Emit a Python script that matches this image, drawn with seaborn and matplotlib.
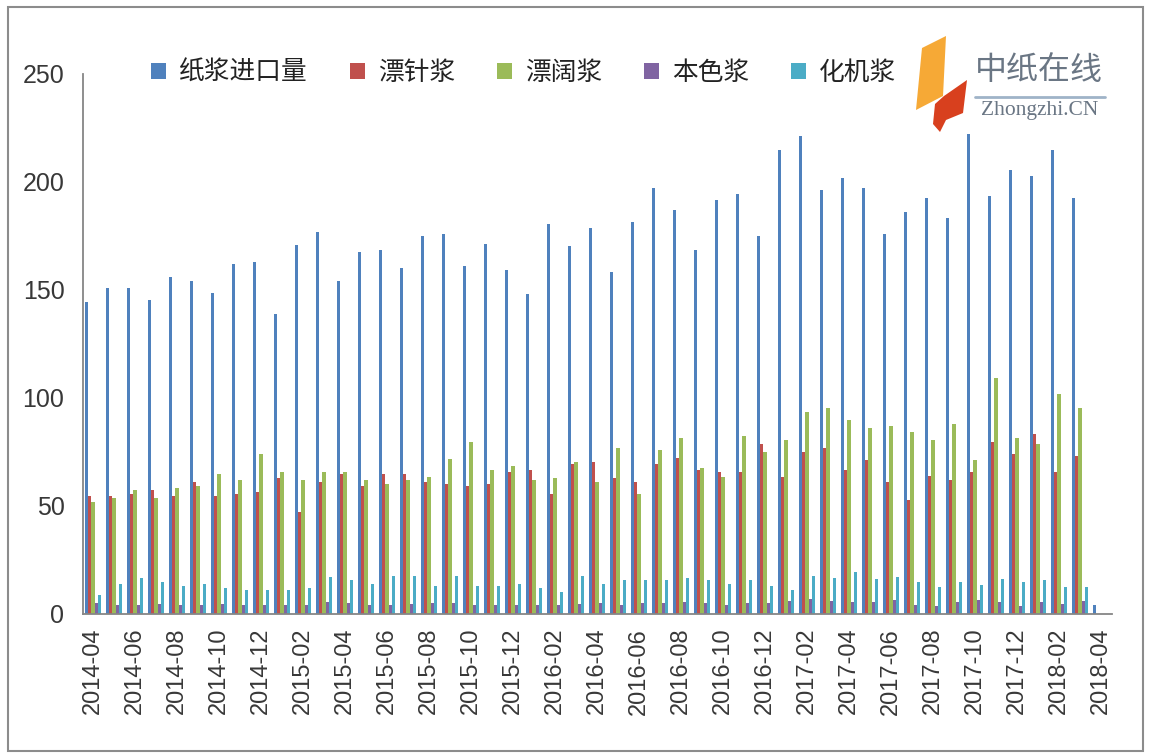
import numpy as np
import pandas as pd
import matplotlib
matplotlib.use("Agg")
import matplotlib.pyplot as plt
from matplotlib.patches import Rectangle, Polygon
from matplotlib.lines import Line2D
import seaborn as sns

# ---------------- data ----------------
months = ["2014-04", "2014-05", "2014-06", "2014-07", "2014-08", "2014-09", "2014-10", "2014-11", "2014-12",
          "2015-01", "2015-02", "2015-03", "2015-04", "2015-05", "2015-06", "2015-07", "2015-08", "2015-09",
          "2015-10", "2015-11", "2015-12", "2016-01", "2016-02", "2016-03", "2016-04", "2016-05", "2016-06",
          "2016-07", "2016-08", "2016-09", "2016-10", "2016-11", "2016-12", "2017-01", "2017-02", "2017-03",
          "2017-04", "2017-05", "2017-06", "2017-07", "2017-08", "2017-09", "2017-10", "2017-11", "2017-12",
          "2018-01", "2018-02", "2018-03", "2018-04"]

series_names = ["纸浆进口量", "漂针浆", "漂阔浆", "本色浆", "化机浆"]

pulp_import = [144.5, 151, 151, 145.5, 156, 154, 148.5, 162, 163, 139, 170.7, 177, 154, 167.7, 168.7, 160.3,
               175, 176, 161, 171.4, 159.4, 148.3, 180.7, 170.5, 178.9, 158.5, 181.6, 197.4, 187.2, 168.7,
               191.8, 194.6, 175, 215, 221.4, 196.4, 202, 197.4, 176, 186.3, 192.7, 183.5, 222.4, 193.6,
               205.7, 202.9, 215, 192.7, 4]
bleached_softwood = [54.5, 54.5, 55.4, 57.4, 54.5, 61, 54.5, 55.4, 56.3, 62.8, 47, 61, 64.7, 59.1, 64.7, 64.7,
                     61, 60, 59.1, 60, 65.6, 66.7, 55.4, 69.3, 70.2, 62.8, 61, 69.3, 72.1, 66.7, 65.6, 65.6,
                     78.6, 63.6, 74.9, 76.7, 66.5, 71.2, 61, 52.6, 63.7, 61.9, 65.6, 79.5, 73.9, 83.2, 65.6,
                     73, 0]
bleached_hardwood = [51.7, 53.5, 57.4, 53.5, 58.2, 59.1, 64.7, 62, 74, 65.6, 62, 65.6, 65.6, 62, 60, 62, 63.6,
                     71.8, 79.5, 66.7, 68.4, 62, 62.8, 70.2, 61, 76.7, 55.4, 75.8, 81.3, 67.4, 63.6, 82.3,
                     74.9, 80.4, 93.4, 95.2, 89.7, 86, 86.9, 84.1, 80.4, 87.8, 71.2, 109.4, 81.3, 78.6, 102,
                     95.2, 0]
unbleached = [5, 4, 4, 4.5, 4, 4, 4.5, 4, 4, 4, 4, 5.5, 5, 4, 4, 4.5, 5, 5, 4, 4, 4, 4, 4, 4.5, 5, 4, 5, 5,
              5.5, 5, 4, 5, 5, 6, 7, 6, 5.4, 5.4, 6.3, 4.2, 3.5, 5.4, 6.3, 5.4, 3.5, 5.4, 4.5, 6, 0]
bctmp = [9, 13.7, 16.5, 14.7, 12.8, 13.7, 11.9, 11, 11, 11, 11.9, 17, 15.6, 13.7, 17.4, 17.4, 12.8, 17.4, 12.8,
         12.8, 13.7, 11.9, 10, 17.4, 13.7, 15.6, 15.6, 15.6, 16.5, 15.6, 13.7, 15.6, 12.8, 11, 17.4, 16.5,
         19.3, 16.2, 17.1, 14.7, 12.5, 14.7, 13.4, 16.2, 14.7, 15.6, 12.5, 12.5, 0]

colors = ["#4F81BD", "#C0504D", "#9BBB59", "#8064A2", "#4BACC6"]

# ---------------- build frame ----------------
values = [pulp_import, bleached_softwood, bleached_hardwood, unbleached, bctmp]
rows = []
for name, vals in zip(series_names, values):
    for m, v in zip(months, vals):
        rows.append({"month": m, "series": name, "value": v})
df = pd.DataFrame(rows)

# ---------------- plot ----------------
sns.set_style("white")
plt.rcParams["font.family"] = ["Liberation Sans", "Noto Sans CJK SC", "DejaVu Sans"]

fig = plt.figure(figsize=(11.51, 7.54), dpi=100)
ax = fig.add_axes([0.0717, 0.1857, 0.9657 - 0.0717, 0.9019 - 0.1857])

sns.barplot(data=df, x="month", y="value", hue="series", order=months, hue_order=series_names,
            palette=colors, saturation=1, width=0.8, linewidth=0, ax=ax, errorbar=None)

ax.set_xlim(-0.5, len(months) - 0.5)
ax.set_ylim(0, 250)
ax.set_yticks([0, 50, 100, 150, 200, 250])
ax.set_xticks(range(0, len(months), 2))
ax.set_xticklabels(months[::2], rotation=90)
ax.set_xlabel("")
ax.set_ylabel("")

for s in ["top", "right"]:
    ax.spines[s].set_visible(False)
for s in ["left", "bottom"]:
    ax.spines[s].set_color("#868686")
    ax.spines[s].set_linewidth(1.3)

ax.tick_params(axis="y", direction="in", length=8, width=1.3, color="#868686",
               labelsize=18, labelcolor="#383838", pad=13)
ax.tick_params(axis="x", length=0, labelsize=17, labelcolor="#383838", pad=10)

# legend
handles, labels = ax.get_legend_handles_labels()
if ax.get_legend() is not None:
    ax.get_legend().remove()
fig.legend(handles, labels, loc="center", bbox_to_anchor=(0.455, 0.903), ncol=5, frameon=False,
           prop={"family": ["Noto Sans CJK SC", "DejaVu Sans"], "size": 18.5},
           handlelength=0.6, handleheight=0.6, handletextpad=0.5, columnspacing=1.62,
           labelcolor="#222222")

# outer frame
fig.patches.append(Rectangle((8 / 1151, 1 - 751 / 754), (1143 - 8) / 1151, (751 - 7) / 754,
                             transform=fig.transFigure, fill=False, edgecolor="#8c8c8c",
                             linewidth=1.5, zorder=0))

# logo (watermark)
def px(x, y):
    return (x / 1151, 1 - y / 754)

fig.patches.append(Polygon([px(922, 48), px(946, 36), px(943, 96), px(916, 110)], closed=True,
                           transform=fig.transFigure, facecolor="#F6A936", edgecolor="none", zorder=5))
fig.patches.append(Polygon([px(944, 96), px(967, 80), px(963, 113), px(946, 120), px(940, 132),
                            px(933, 124), px(935, 104)], closed=True,
                           transform=fig.transFigure, facecolor="#D8401E", edgecolor="none", zorder=5))
fig.text(1039 / 1151, 1 - 70 / 754, "中纸在线", ha="center", va="center", fontsize=23,
         family=["Noto Sans CJK SC", "DejaVu Sans"], color="#6a7684", zorder=6)
fig.add_artist(Line2D([975 / 1151, 1105 / 1151], [1 - 97 / 754, 1 - 97 / 754],
                      transform=fig.transFigure, color="#9fb3c8", linewidth=2))
fig.text(1040 / 1151, 1 - 110 / 754, "Zhongzhi.CN", ha="center", va="center", fontsize=15.5,
         family="Liberation Serif", color="#6a7684", zorder=6)

fig.savefig("out.png", dpi=100, facecolor="white")
